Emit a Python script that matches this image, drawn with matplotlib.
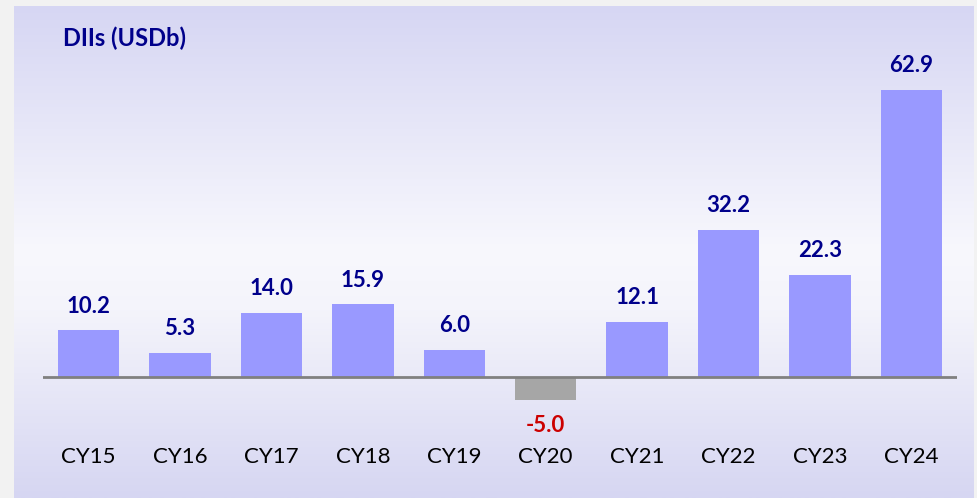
import numpy as np
import matplotlib.pyplot as plt
from matplotlib.colors import LinearSegmentedColormap

years = ['CY15', 'CY16', 'CY17', 'CY18', 'CY19', 'CY20', 'CY21', 'CY22', 'CY23', 'CY24']
dii_flows = [10.2, 5.3, 14.0, 15.9, 6.0, -5.0, 12.1, 32.2, 22.3, 62.9]

plt.rcParams['font.family'] = ['Lato', 'DejaVu Sans']

W, H = 977, 498
fig = plt.figure(figsize=(W / 100, H / 100), dpi=100)
fig.patch.set_facecolor('#f2f2f2')

# gradient panel behind the chart
bg = fig.add_axes([14 / W, 0, (974 - 14) / W, (H - 6) / H])
grad = LinearSegmentedColormap.from_list(
    'panel', [(0.0, '#d6d6f3'), (0.5, '#f8f8fd'), (0.62, '#f4f4fb'), (1.0, '#d6d6f2')])
bg.imshow(np.linspace(0, 1, 256).reshape(-1, 1), aspect='auto', cmap=grad,
          extent=[0, 1, 0, 1])
bg.set_axis_off()

# data axes: baseline at y=377px, 4.563 px per unit
ax = fig.add_axes([43 / W, 68 / H, (957 - 43) / W, 370 / H])
ax.patch.set_alpha(0)
scale = 4.563
ymin = -(H - 377 - 68) / scale
ax.set_ylim(ymin, ymin + 370 / scale)
ax.set_xlim(-0.5, 9.5)

x = np.arange(len(years))
colors = ['#9999ff' if v >= 0 else '#a6a6a6' for v in dii_flows]
ax.bar(x, dii_flows, width=0.67, color=colors, zorder=2)
ax.axhline(0, color='#808080', linewidth=2, zorder=3)

for xi, v in zip(x, dii_flows):
    if v >= 0:
        ax.annotate(f'{v:.1f}', (xi, v), xytext=(0, 10), textcoords='offset points',
                    ha='center', va='bottom', fontsize=16, fontweight='bold',
                    color='#00008b')
    else:
        ax.annotate(f'{v:.1f}', (xi, v), xytext=(0, -11), textcoords='offset points',
                    ha='center', va='top', fontsize=16, fontweight='bold',
                    color='#cc0000')

for xi, lab in zip(x, years):
    ax.text(xi, -17.6, lab, ha='center', va='center', fontsize=16, color='black')

for s in ax.spines.values():
    s.set_visible(False)
ax.set_xticks([])
ax.set_yticks([])

fig.text(63 / W, 1 - 38 / H, 'DIIs (USDb)', ha='left', va='center', fontsize=17,
         fontweight='bold', color='#00008b')

fig.savefig('out.png', dpi=100)
